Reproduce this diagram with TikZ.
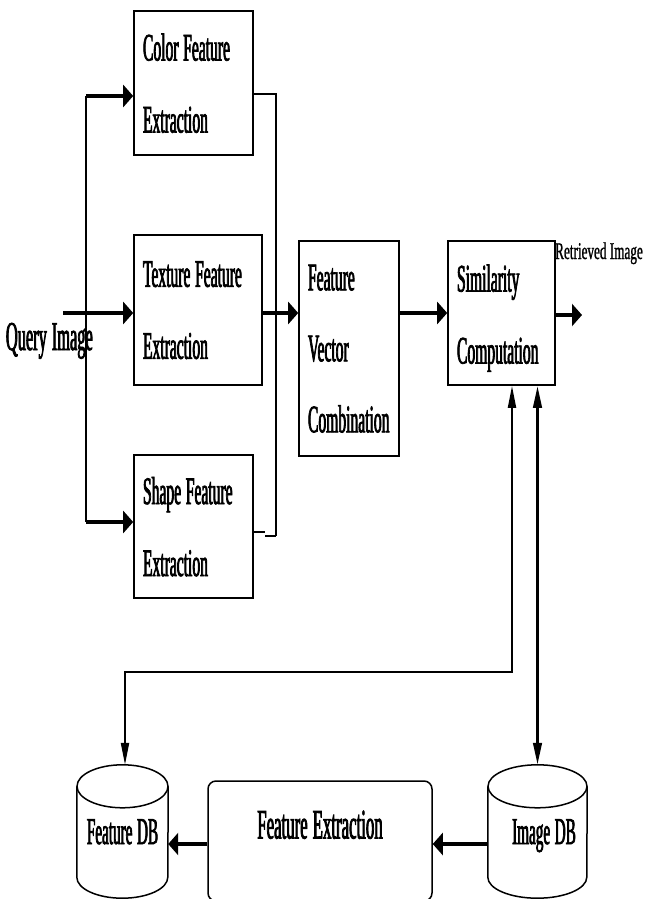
\documentclass[tikz,border=0pt]{standalone}
\usepackage{fontspec}
\setmainfont{Liberation Serif}
\newfontfamily\tallfont[FakeStretch=0.4,WordSpace=1.2,FakeBold=1.8]{Liberation Serif}
\newfontfamily\midfont[FakeStretch=0.55,WordSpace=1,FakeBold=1]{Liberation Serif}
\usetikzlibrary{arrows.meta,calc}
\begin{document}
\begin{tikzpicture}[x=1pt,y=-1pt,
  box/.style={draw, line width=1.6pt, inner xsep=9pt, inner ysep=0pt, align=left,
    execute at begin node={\spaceskip=0pt\xspaceskip=0pt\relax},
    text depth=72pt, font=\tallfont\fontsize{39}{72}\selectfont},
  bigarrow/.style={line width=4.5pt, -{Triangle[length=10pt,width=22pt]}},
  thinline/.style={line width=1.4pt},
  vthin/.style={line width=2pt, {Triangle[length=22pt,width=8pt]}-{Triangle[length=22pt,width=8pt]}},
  vthick/.style={line width=2.8pt, {Triangle[length=22pt,width=8.5pt]}-{Triangle[length=22pt,width=8.5pt]}},
  dbnode/.style={inner sep=0pt, minimum height=133pt, text height=25pt, text depth=0pt,
    font=\tallfont\fontsize{38}{40}\selectfont},
  cyl/.style={line width=1.5pt}
]
\useasboundingbox (0,0) rectangle (656,899);

% upper boxes
\node[box, text width=101pt, minimum height=144pt] (color) at (193.5,83) {Color Feature\\Extraction};
\node[box, text width=110pt, minimum height=150pt] (tex) at (198,310) {Texture Feature\\Extraction};
\node[box, text width=101pt, minimum height=143pt] (shape) at (193.5,526.5) {Shape Feature\\Extraction};
\node[box, text width=82pt, minimum height=215pt, text depth=142pt, font=\tallfont\fontsize{39}{71}\selectfont] (fvc) at (349,348.5) {Feature\\Vector\\Combination};
\node[box, text width=89pt, minimum height=144pt, text depth=70pt] (sim) at (501.5,313) {Similarity\\Computation};

% free labels
\node[anchor=base east, inner sep=0pt, font=\tallfont\fontsize{41}{41}\selectfont] (query) at (93,350) {Query Image};
\node[anchor=base west, inner sep=0pt, font=\midfont\fontsize{24}{24}\selectfont] (ret) at (555,259) {Retrieved Image};

% databases
\node[dbnode, minimum width=91pt] (fdb) at (122.5,831.5) {Feature DB};
\node[dbnode, minimum width=99pt] (idb) at (537.5,831.5) {\hspace*{13pt}Image DB};
\foreach \db/\rx in {fdb/45.5, idb/49.5}{
  \draw[cyl] ($(\db.north)+(0,21.5)$) ellipse [x radius=\rx pt, y radius=21.5pt];
  \draw[cyl] ($(\db.north west)+(0,21.5)$) -- ($(\db.south west)+(0,-21)$)
     arc[start angle=180, end angle=360, x radius=\rx pt, y radius=21pt]
     -- ($(\db.north east)+(0,21.5)$);
}

% feature extraction box
\node[draw, line width=1.5pt, rounded corners=8pt, minimum width=224pt, minimum height=120pt,
  inner sep=0pt, text height=28pt, text depth=33pt, font=\tallfont\fontsize{42}{42}\selectfont]
  (fe) at (320,841) {Feature Extraction};

% coordinates
\coordinate (qin) at (63,313);
\coordinate (lbtop) at (86,96);
\coordinate (lbbot) at (86,522);
\coordinate (rbtop) at (276,94);
\coordinate (rbbot) at (276,536);
\coordinate (sh1) at (265,532);
\coordinate (sh2) at (265,536);
\coordinate (outend) at (582,315);
\coordinate (bend) at (125,672);
\coordinate (ar) at (0,844);

% left distribution
\draw[thinline] (lbtop) -- (lbbot);
\draw[bigarrow] (lbtop) -- (lbtop -| color.west);
\draw[bigarrow] (lbbot) -- (lbbot -| shape.west);
\draw[bigarrow] (qin) -- (qin -| tex.west);

% right collection
\draw[thinline] (rbtop -| color.east) -- (rbtop) -- (rbbot);
\draw[line width=2pt] (sh1 -| shape.east) -- (sh1);
\draw[line width=2pt] (sh2) -- (rbbot);
\draw[bigarrow] (tex.east |- qin) -- (qin -| fvc.west);
\draw[bigarrow] (fvc.east |- sim.west) -- (sim.west);
\draw[bigarrow] (sim.east |- outend) -- (outend);

% database links
\draw[vthin] ([xshift=10.5pt]sim.south) |- (bend) -- (bend |- fdb.north);
\draw[vthick] (idb.north |- sim.south) -- (idb.north);
\draw[bigarrow] (idb.west |- ar) -- (fe.east |- ar);
\draw[bigarrow] (fe.west |- ar) -- (fdb.east |- ar);
\end{tikzpicture}
\end{document}
